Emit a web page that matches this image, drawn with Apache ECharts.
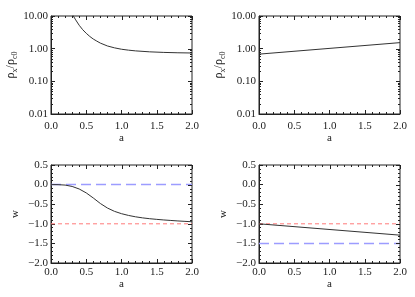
<!DOCTYPE html>
<html><head><meta charset="utf-8">
<script src="https://cdn.jsdelivr.net/npm/echarts@6/dist/echarts.min.js"></script>
<style>html,body{margin:0;padding:0;background:#fff}#c{width:415px;height:297px}</style>
</head><body><div id="c"></div>
<script>
// ---- data ----
const aRhoL = [0.25, 0.3, 0.35, 0.4, 0.45, 0.5, 0.55, 0.6, 0.65, 0.7, 0.8, 0.9, 1.0, 1.1, 1.2, 1.4, 1.6, 1.8, 2.0];
const rhoL  = [19.5, 11.5, 7.6, 5.2, 3.8, 2.95, 2.37, 1.97, 1.70, 1.48, 1.21, 1.06, 0.96, 0.90, 0.855, 0.80, 0.768, 0.749, 0.737];
const aRhoR = [0.0, 2.0];
const rhoR  = [0.68, 1.53];
const aWL = [0.0, 0.1, 0.2, 0.3, 0.4, 0.5, 0.6, 0.7, 0.8, 0.9, 1.0, 1.1, 1.2, 1.3, 1.4, 1.5, 1.6, 1.7, 1.8, 1.9, 2.0];
const wL  = [0.0, -0.002, -0.012, -0.047, -0.112, -0.212, -0.342, -0.482, -0.597, -0.682, -0.742, -0.787, -0.822, -0.849, -0.870, -0.887, -0.902, -0.915, -0.927, -0.938, -0.948];
const aWR = [0.0, 2.0];
const wR  = [-1.0, -1.29];
const refBlueL = 0.0, refRedL = -1.0;
const refRedR = -1.0, refBlueR = -1.5;
const xTicks = [0.0, 0.5, 1.0, 1.5, 2.0];
const xMinorTicks = [0.1,0.2,0.3,0.4,0.6,0.7,0.8,0.9,1.1,1.2,1.3,1.4,1.6,1.7,1.8,1.9];
const logTicks = [0.01, 0.1, 1, 10];
const logMinorTicks = [0.02,0.03,0.04,0.05,0.06,0.07,0.08,0.09,0.2,0.3,0.4,0.5,0.6,0.7,0.8,0.9,2,3,4,5,6,7,8,9];
const wTicks = [-2.0, -1.5, -1.0, -0.5, 0.0, 0.5];
const wMinorTicks = [-1.9,-1.8,-1.7,-1.6,-1.4,-1.3,-1.2,-1.1,-0.9,-0.8,-0.7,-0.6,-0.4,-0.3,-0.2,-0.1,0.1,0.2,0.3,0.4];
const xRange = [0, 2];
const logRange = [0.01, 10];
const wRange = [-2.0, 0.5];

// ---- style ----
const FONT = 'Liberation Serif';
const AX = '#222';
const grids = [
  {left: 51, top: 16, width: 141, height: 98},
  {left: 259, top: 16, width: 141, height: 98},
  {left: 51, top: 165, width: 141, height: 98},
  {left: 259, top: 165, width: 141, height: 98}
].map(g => Object.assign(g, {show: true, borderColor: AX, borderWidth: 1, backgroundColor: 'transparent'}));
const zip = (xs, ys) => xs.map((x, i) => [x, ys[i]]);
const fmtW = v => (Number(v) < 0 ? '\u2212' : '') + Math.abs(Number(v)).toFixed(1);

const xAxes = [], yAxes = [];
grids.forEach((g, i) => {
  const isLog = i < 2;
  xAxes.push({
    type: 'value', gridIndex: i, position: 'bottom', min: xRange[0], max: xRange[1], interval: 0.5,
    name: 'a', nameLocation: 'middle', nameGap: isLog ? 19 : 16,
    nameTextStyle: {fontFamily: FONT, fontSize: 11, color: AX},
    axisLine: {show: true, onZero: false, lineStyle: {color: AX, width: 1}},
    axisTick: {show: true, inside: true, length: 4, lineStyle: {color: AX}},
    minorTick: {show: true, splitNumber: 5, length: 2, lineStyle: {color: AX}},
    axisLabel: {fontFamily: FONT, fontSize: 11, color: AX, margin: isLog ? 7 : 4,
      formatter: v => Number(v).toFixed(1)},
    splitLine: {show: false}, minorSplitLine: {show: false}
  });
  if (isLog) {
    yAxes.push({
      type: 'log', logBase: 10, gridIndex: i, min: logRange[0], max: logRange[1], splitNumber: 3,
      position: 'left',
      axisLine: {show: true, onZero: false, lineStyle: {color: AX, width: 1}},
      axisTick: {show: true, inside: true, length: 4, lineStyle: {color: AX}},
      minorTick: {show: false}, splitLine: {show: false},
      name: '{r|ρ}{s|x}{r|/ρ}{s|c0}', nameLocation: 'middle', nameGap: 29, nameRotate: 90,
      nameTextStyle: {fontFamily: FONT, color: AX,
        rich: {r: {fontFamily: FONT, fontSize: 12, color: AX, lineHeight: 14, verticalAlign: 'bottom'},
               s: {fontFamily: FONT, fontSize: 8, color: AX, lineHeight: 14, verticalAlign: 'bottom', padding: [0,0,-3,0]}}},
      axisLabel: {fontFamily: FONT, fontSize: 11, color: AX, margin: 3, showMinLabel: true, showMaxLabel: true,
        formatter: v => Number(v).toFixed(2)}
    });
  } else {
    yAxes.push({
      type: 'value', gridIndex: i, min: wRange[0], max: wRange[1], interval: 0.5,
      position: 'left',
      axisLine: {show: true, onZero: false, lineStyle: {color: AX, width: 1}},
      axisTick: {show: true, inside: true, length: 4, lineStyle: {color: AX}},
      minorTick: {show: true, splitNumber: 5, length: 2, lineStyle: {color: AX}},
      splitLine: {show: false}, minorSplitLine: {show: false},
      name: 'w', nameLocation: 'middle', nameGap: 30, nameRotate: 90,
      nameTextStyle: {fontFamily: FONT, fontSize: 11, color: AX},
      // labels for this axis are drawn by the wLabels custom series below
      axisLabel: {show: false}
    });
  }
});

const curve = (i, data) => ({
  type: 'line', xAxisIndex: i, yAxisIndex: i, data: data, showSymbol: false, symbol: 'none',
  smooth: false, clip: true, silent: true,
  lineStyle: {color: '#333', width: 1}, z: 3
});
const refLine = (i, val, color, dash, width) => ({
  type: 'line', xAxisIndex: i, yAxisIndex: i, data: [[xRange[0], val], [xRange[1], val]],
  showSymbol: false, symbol: 'none', silent: true,
  lineStyle: {color: color, width: width, type: dash}, z: 2
});
// horizontal tick marks on the left (dir=+1) or right (dir=-1) edge
const sideTicks = (i, xEdge, dir, values, len) => ({
  type: 'custom', xAxisIndex: i, yAxisIndex: i, silent: true, z: 4, clip: false,
  data: values.map(v => [xEdge, v]),
  encode: {x: 0, y: 1},
  renderItem: (params, api) => {
    const p = api.coord([api.value(0), api.value(1)]);
    const y = Math.round(p[1]) + 0.5;
    return {type: 'line', shape: {x1: p[0], y1: y, x2: p[0] + dir * len, y2: y}, style: {stroke: AX, lineWidth: 1}};
  }
});
// vertical tick marks along the top edge
const topTicks = (i, yTop, values, len) => ({
  type: 'custom', xAxisIndex: i, yAxisIndex: i, silent: true, z: 4, clip: false,
  data: values.map(v => [v, yTop]),
  encode: {x: 0, y: 1},
  renderItem: (params, api) => {
    const p = api.coord([api.value(0), api.value(1)]);
    const x = Math.round(p[0]) + 0.5;
    return {type: 'line', shape: {x1: x, y1: p[1], x2: x, y2: p[1] + len}, style: {stroke: AX, lineWidth: 1}};
  }
});
// tick labels of the w axes, placed through the axis scale
const wLabels = (i) => ({
  type: 'custom', xAxisIndex: i, yAxisIndex: i, silent: true, z: 5, clip: false,
  data: wTicks.map(v => [xRange[0], v]),
  encode: {x: 0, y: 1},
  renderItem: (params, api) => {
    const v = api.value(1);
    const p = api.coord([api.value(0), v]);
    return {type: 'text', x: p[0] - 3, y: p[1], style: {
      text: fmtW(v), align: 'right', verticalAlign: 'middle',
      fontFamily: FONT, fontSize: 11, fill: AX}};
  }
});

const BLUE = '#9c9cff', RED = '#ff7a7a';
const series = [
  curve(0, zip(aRhoL, rhoL)),
  curve(1, zip(aRhoR, rhoR)),
  curve(2, zip(aWL, wL)),
  curve(3, zip(aWR, wR)),
  refLine(2, refBlueL, BLUE, [10, 5], 1.5),
  refLine(2, refRedL, RED, [4, 3], 1),
  refLine(3, refRedR, RED, [4, 3], 1),
  refLine(3, refBlueR, BLUE, [10, 5], 1.5)
];
[0, 1].forEach(i => {
  series.push(sideTicks(i, xRange[0], 1, logMinorTicks, 2));
  series.push(sideTicks(i, xRange[1], -1, logTicks, 4));
  series.push(sideTicks(i, xRange[1], -1, logMinorTicks, 2));
  series.push(topTicks(i, logRange[1], xTicks, 4));
  series.push(topTicks(i, logRange[1], xMinorTicks, 2));
});
[2, 3].forEach(i => {
  series.push(sideTicks(i, xRange[1], -1, wTicks, 4));
  series.push(sideTicks(i, xRange[1], -1, wMinorTicks, 2));
  series.push(topTicks(i, wRange[1], xTicks, 4));
  series.push(topTicks(i, wRange[1], xMinorTicks, 2));
  series.push(wLabels(i));
});

const chart = echarts.init(document.getElementById('c'), null, {renderer: 'canvas'});
chart.setOption({
  animation: false,
  backgroundColor: '#fff',
  grid: grids,
  xAxis: xAxes,
  yAxis: yAxes,
  series: series
});
</script></body></html>
